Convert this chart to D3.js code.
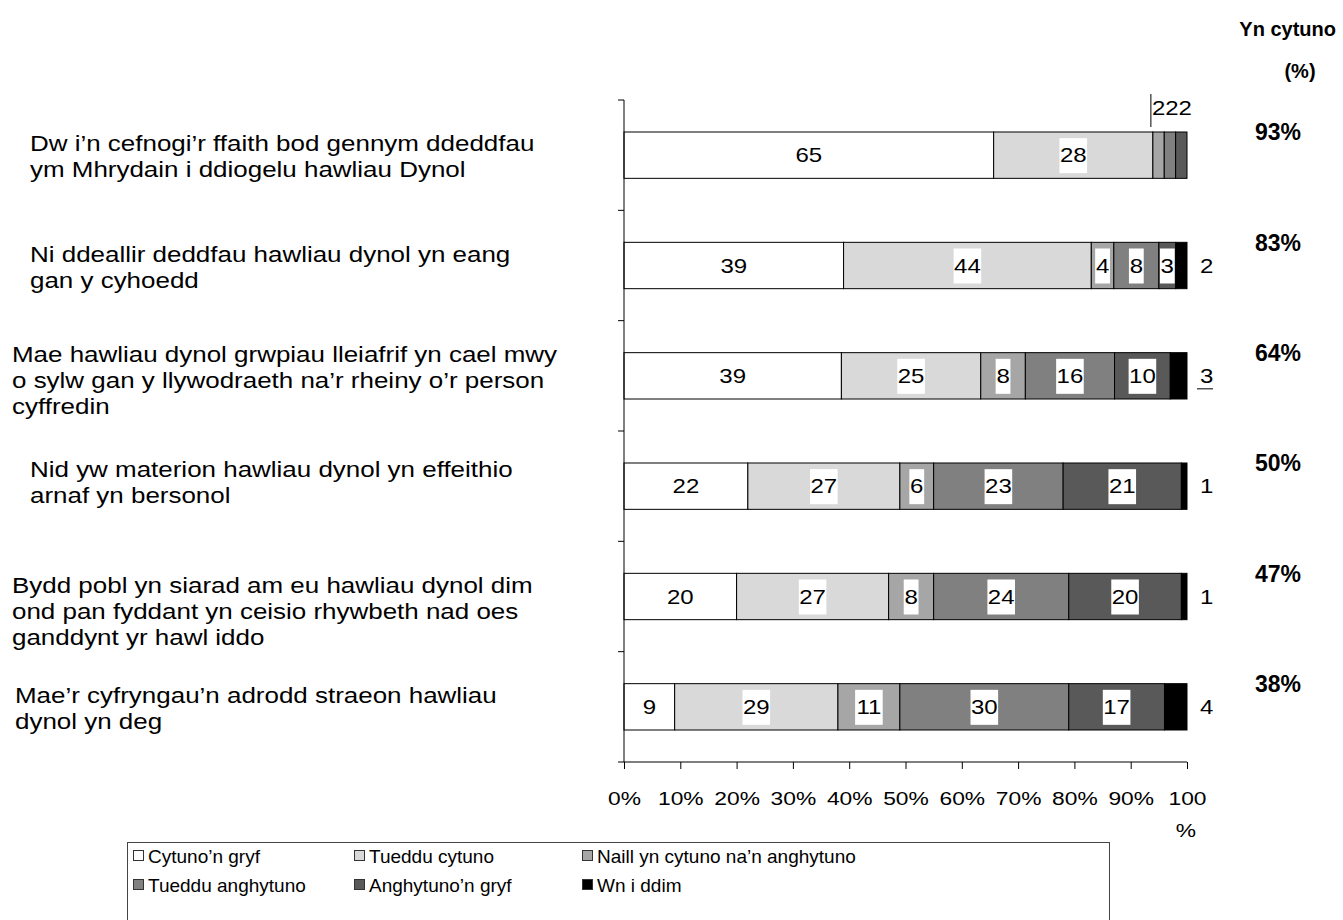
<!DOCTYPE html>
<html>
<head>
<meta charset="utf-8">
<script src="https://cdn.jsdelivr.net/npm/d3@7"></script>
<style>
  body { margin: 0; background: #fff; }
  svg { font-family: "Liberation Sans", Arial, sans-serif; }
</style>
</head>
<body>
<svg id="chart" width="1343" height="920"></svg>
<script>
// statements (each as its wrapped lines)
var statements = [
  ["Dw i\u2019n cefnogi\u2019r ffaith bod gennym ddeddfau", "ym Mhrydain i ddiogelu hawliau Dynol"],
  ["Ni ddeallir deddfau hawliau dynol yn eang", "gan y cyhoedd"],
  ["Mae hawliau dynol grwpiau lleiafrif yn cael mwy", "o sylw gan y llywodraeth na\u2019r rheiny o\u2019r person", "cyffredin"],
  ["Nid yw materion hawliau dynol yn effeithio", "arnaf yn bersonol"],
  ["Bydd pobl yn siarad am eu hawliau dynol dim", "ond pan fyddant yn ceisio rhywbeth nad oes", "ganddynt yr hawl iddo"],
  ["Mae\u2019r cyfryngau\u2019n adrodd straeon hawliau", "dynol yn deg"]
];
var seriesNames = ["Cytuno\u2019n gryf", "Tueddu cytuno", "Naill yn cytuno na\u2019n anghytuno",
                   "Tueddu anghytuno", "Anghytuno\u2019n gryf", "Wn i ddim"];
var cytunoGryf     = [65, 39, 39, 22, 20, 9];
var tuedduCytuno   = [28, 44, 25, 27, 27, 29];
var naill          = [2, 4, 8, 6, 8, 11];
var tuedduAnghyt   = [2, 8, 16, 23, 24, 30];
var anghytunoGryf  = [2, 3, 10, 21, 20, 17];
var wnIDdim        = [0, 2, 3, 1, 1, 4];
var ynCytuno       = [93, 83, 64, 50, 47, 38];
var xTicks = [0, 10, 20, 30, 40, 50, 60, 70, 80, 90, 100];

var colors = ["#ffffff", "#d9d9d9", "#a6a6a6", "#808080", "#595959", "#000000"];
// layout tweaks for the left text blocks
var labelX = [30, 30, 12, 30, 12, 15];
var labelDY = [0, 0, 3, -5, 13, 0];
var SX = 1.2; // the source text is a little wider than plain Arial

var series = [cytunoGryf, tuedduCytuno, naill, tuedduAnghyt, anghytunoGryf, wnIDdim];
var rows = statements.map(function (s, i) {
  var vals = series.map(function (arr) { return arr[i]; });
  var total = d3.sum(vals);
  var acc = 0;
  var segs = vals.map(function (v, k) {
    var seg = {row: i, k: k, v: v, x0: acc / total * 100, x1: (acc + v) / total * 100};
    acc += v;
    return seg;
  });
  return {i: i, segs: segs};
});

var svg = d3.select("#chart");
var x = d3.scaleLinear().domain([0, 100]).range([624, 1187]);
var y = d3.scaleBand().domain(d3.range(statements.length)).range([100, 762])
  .paddingInner(0.58).paddingOuter(0.29);
var step = y.step();

// stretched text helper
function wideText(parent, tx, ty, str, size, anchor) {
  return parent.append("text")
    .attr("transform", "translate(" + tx + "," + ty + ") scale(" + SX + ",1)")
    .attr("text-anchor", anchor || "start")
    .attr("font-size", size).text(str);
}

// header right
svg.append("text").attr("x", 1336).attr("y", 36).attr("text-anchor", "end")
  .attr("font-size", 20).attr("font-weight", "bold").text("Yn cytuno");
svg.append("text").attr("x", 1300).attr("y", 78).attr("text-anchor", "middle")
  .attr("font-size", 20).attr("font-weight", "bold").text("(%)");

// category labels
statements.forEach(function (lines, i) {
  var cy = y(i) + y.bandwidth() / 2 + labelDY[i];
  var lh = 26;
  lines.forEach(function (ln, j) {
    var t = wideText(svg, labelX[i], cy - (lines.length - 1) * lh / 2 + j * lh + 9, ln, 22);
    t.attr("transform", "translate(" + labelX[i] + "," + (cy - (lines.length - 1) * lh / 2 + j * lh + 9) + ") scale(1.18,1)");
  });
});

// bars
var bar = svg.append("g");
rows.forEach(function (r) {
  var g = bar.append("g");
  g.selectAll("rect").data(r.segs.filter(function (s) { return s.v > 0; })).enter()
    .append("rect")
    .attr("x", function (s) { return x(s.x0); })
    .attr("width", function (s) { return x(s.x1) - x(s.x0); })
    .attr("y", y(r.i)).attr("height", y.bandwidth())
    .attr("fill", function (s) { return colors[s.k]; })
    .attr("stroke", "#000").attr("stroke-width", 1);
});

// labels
rows.forEach(function (r) {
  var cy = y(r.i) + y.bandwidth() / 2;
  var inside = r.segs.filter(function (s) { return s.k < 5 && s.v > 0; });
  if (r.i === 0) inside = inside.filter(function (s) { return s.k < 2; });
  inside.forEach(function (s) {
    var cx = (x(s.x0) + x(s.x1)) / 2;
    var txt = String(s.v);
    var w = txt.length * 12.8 + 2;
    if (s.k > 0) {
      svg.append("rect").attr("x", cx - w / 2).attr("y", cy - 17)
        .attr("width", w).attr("height", 35).attr("fill", "#fff");
    }
    wideText(svg, cx, cy + 7, txt, 20, "middle");
  });
  // "don't know" label outside the bar
  var last = r.segs[5];
  if (last.v > 0) {
    wideText(svg, x(100) + 13, cy + 7, last.v, 20);
    if (r.i === 2) {
      svg.append("line").attr("x1", x(100) + 10).attr("x2", x(100) + 26)
        .attr("y1", cy + 13).attr("y2", cy + 13).attr("stroke", "#000");
    }
  }
  // first row: small segments labelled above the bar
  if (r.i === 0) {
    var small = r.segs.filter(function (s) { return s.k >= 2 && s.k < 5; });
    var sx = x(small[0].x0) - 2;
    svg.append("line").attr("x1", sx).attr("x2", sx)
      .attr("y1", y(r.i) - 38).attr("y2", y(r.i) - 5).attr("stroke", "#000");
    wideText(svg, sx + 1, y(r.i) - 17, small.map(function (s) { return s.v; }).join(""), 20);
  }
  // agree totals
  svg.append("text").attr("x", 1278).attr("y", cy - 15).attr("text-anchor", "middle")
    .attr("font-size", 23).attr("font-weight", "bold").text(ynCytuno[r.i] + "%");
});

// y axis
var yAxis = svg.append("g");
yAxis.append("line").attr("x1", 624).attr("x2", 624).attr("y1", 100).attr("y2", 762)
  .attr("stroke", "#000");
yAxis.selectAll("line.tk").data(d3.range(statements.length + 1)).enter()
  .append("line").attr("class", "tk")
  .attr("x1", 618).attr("x2", 624)
  .attr("y1", function (d) { return 100 + d * step; })
  .attr("y2", function (d) { return 100 + d * step; })
  .attr("stroke", "#000");

// x axis
var xAxis = svg.append("g").attr("transform", "translate(0,762)")
  .call(d3.axisBottom(x).tickValues(xTicks).tickSize(7).tickPadding(23)
    .tickFormat(function (d) { return d === 100 ? "100" : d + "%"; }));
xAxis.select(".domain").attr("stroke", "#000").attr("d", "M624,0H1187");
xAxis.selectAll(".tick line").attr("stroke", "#000");
xAxis.selectAll(".tick text").attr("font-size", 19).attr("fill", "#000")
  .attr("transform", "scale(" + SX + ",1)")
  .attr("font-family", "Liberation Sans, Arial, sans-serif");
wideText(svg, x(100) - 1, 837, "%", 19, "middle");

// legend
var lg = svg.append("g");
lg.append("rect").attr("x", 127.5).attr("y", 842.5).attr("width", 982).attr("height", 80)
  .attr("fill", "#fff").attr("stroke", "#444");
var colX = [133, 354, 582];
seriesNames.forEach(function (name, k) {
  var cx = colX[k % 3], cy = 856 + Math.floor(k / 3) * 29;
  lg.append("rect").attr("x", cx + 0.5).attr("y", cy - 5.5).attr("width", 10).attr("height", 10)
    .attr("fill", colors[k]).attr("stroke", "#333");
  lg.append("text").attr("x", cx + 15).attr("y", cy + 7).attr("font-size", 19).text(name);
});
</script>
</body>
</html>
